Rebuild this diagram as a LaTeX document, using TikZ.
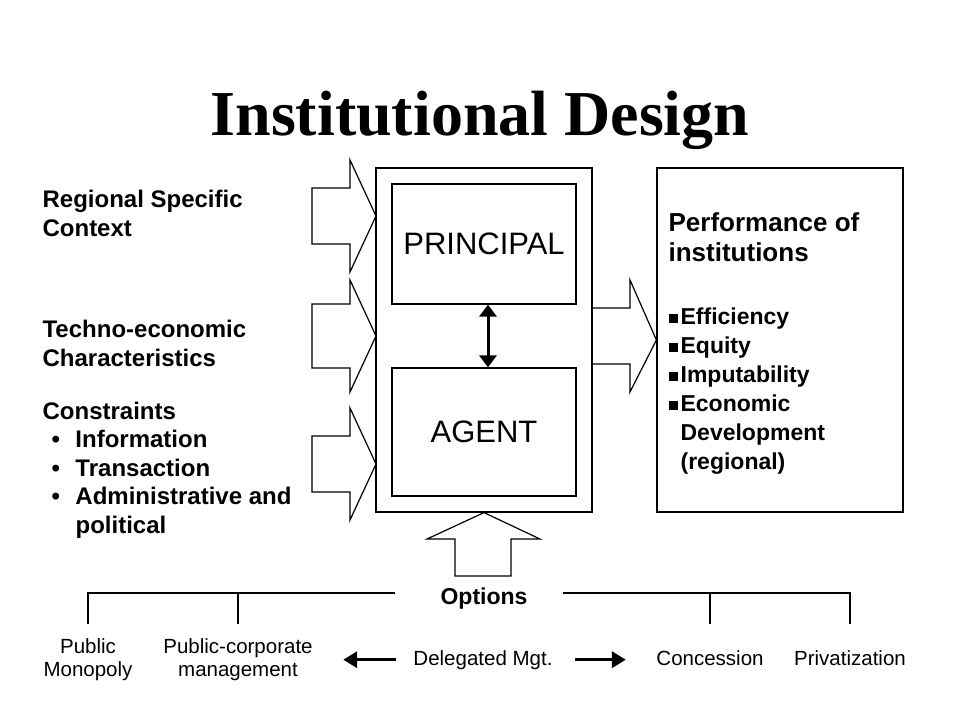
\documentclass[tikz,border=0pt]{standalone}
\usepackage{fontspec}
\setmainfont{Liberation Serif}
\setsansfont{Liberation Sans}
\usetikzlibrary{arrows.meta}
\newcommand\sqbul{\rule[1pt]{9pt}{9pt}\hspace{3pt}}

\begin{document}
\begin{tikzpicture}[x=1pt, y=-1pt, line width=1.2pt,
    box/.style={draw, inner sep=0pt},
    txt/.style={inner sep=0pt, anchor=north west, align=left, font=\sffamily\bfseries\fontsize{24}{28.5}\selectfont},
    opt/.style={inner sep=0pt, align=center, font=\sffamily\fontsize{20.5}{23}\selectfont},
    fat/.style={line width=3.5pt, -{Triangle[length=14pt, width=16pt]}}]
    \useasboundingbox (0,0) rectangle (960,720);
    \node[anchor=base, inner sep=0pt, font=\bfseries\fontsize{64}{70}\selectfont] (title) at (480,135) {Institutional Design};
    % principal and agent inside the institution
    \node[box, minimum width=216pt, minimum height=344pt] (inst) at (484,340) {};
    \node[box, minimum width=184pt, minimum height=120pt, font=\sffamily\fontsize{31}{36}\selectfont] (principal) at (484,244) {PRINCIPAL};
    \node[box, minimum width=184pt, minimum height=128pt, font=\sffamily\fontsize{31}{36}\selectfont] (agent) at (484,432) {AGENT};
    \draw[line width=3pt, {Triangle[length=12pt, width=17pt]}-{Triangle[length=12pt, width=17pt]}] ([xshift=4pt]principal.south) -- ([xshift=4pt]agent.north);
    % inputs
    \node[txt] (context) at (42,190) {Regional Specific\\Context};
    \node[txt] (techno) at (42,320) {Techno-economic\\Characteristics};
    \node[txt] (constr) at (42,401.5) {Constraints\\
        \hspace*{9pt}\textbullet\hspace{15.5pt}Information\\
        \hspace*{9pt}\textbullet\hspace{15.5pt}Transaction\\
        \hspace*{9pt}\textbullet\hspace{15.5pt}Administrative and\\
        \hspace*{33pt}political};
    \foreach \y/\s in {216/28, 336/32, 464/28}
        \draw (312,\y-\s) -- (350,\y-\s) -- (350,\y-56) -- (376,\y) -- (350,\y+56) -- (350,\y+\s) -- (312,\y+\s) -- cycle;
    % output
    \node[box, minimum width=246pt, minimum height=344pt] (perf) at (780,340) {};
    \node[txt, font=\sffamily\bfseries\fontsize{26}{30}\selectfont] (perfhead) at (668,212) {Performance of\\institutions};
    \node[txt, font=\sffamily\bfseries\fontsize{23}{29}\selectfont] (perfitems) at (668,307) {\sqbul Efficiency\\
        \sqbul Equity\\
        \sqbul Imputability\\
        \sqbul Economic\\
        \hspace*{12pt}Development\\
        \hspace*{12pt}(regional)};
    \draw (592,308) -- (630,308) -- (630,280) -- (perf.west |- inst.east) -- (630,392) -- (630,364) -- (592,364);
    % options
    \draw (inst.south) -- (540,539) -- (511,539) -- (511,576) -- (455,576) -- (455,539) -- (427,539) -- cycle;
    \node[anchor=base, inner sep=0pt, font=\sffamily\bfseries\fontsize{23}{26}\selectfont] (options) at (484,604) {Options};
    \node[opt, anchor=north] (pubmono) at (88,638.5) {Public\\Monopoly};
    \node[opt, anchor=north] (pubcorp) at (238,638.5) {Public-corporate\\management};
    \node[opt, anchor=base] (deleg) at (483,665) {Delegated Mgt.};
    \node[opt, anchor=base] (concess) at (710,665) {Concession};
    \node[opt, anchor=base] (privat) at (850,665) {Privatization};
    \coordinate (barL) at (395,593);
    \coordinate (barR) at (563,593);
    \coordinate (foot) at (0,624);
    \draw (barL) -| (pubmono.north |- foot);
    \draw (pubcorp.north |- barL) -- (pubcorp.north |- foot);
    \draw (barR) -| (privat.north |- foot);
    \draw (concess.north |- barR) -- (concess.north |- foot);
    \draw[fat, shorten <=17pt, shorten >=30pt] (deleg.west) -- (deleg.west -| pubcorp.east);
    \draw[fat, shorten <=22pt, shorten >=30pt] (deleg.east) -- (deleg.east -| concess.west);
\end{tikzpicture}
\end{document}
